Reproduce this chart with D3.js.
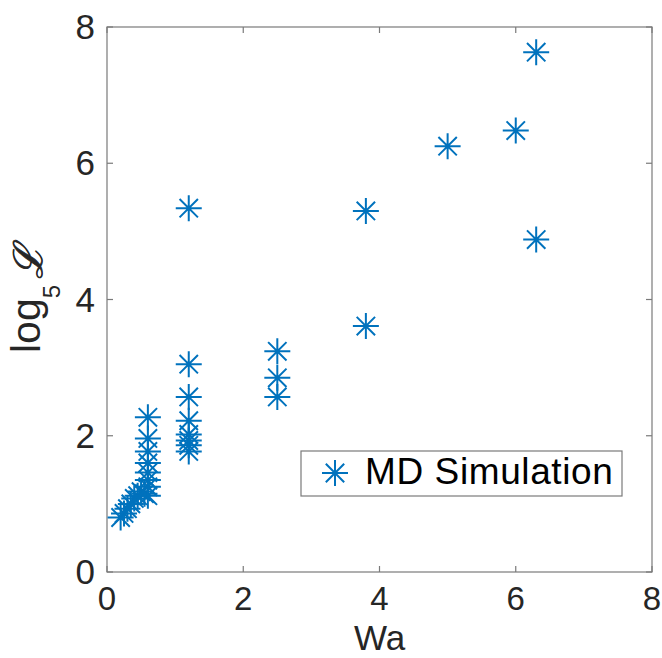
<!DOCTYPE html>
<html>
<head>
<meta charset="utf-8">
<script src="https://cdn.jsdelivr.net/npm/d3@7"></script>
<style>
  body { margin: 0; background: #fff; }
  text { font-family: "Liberation Sans", Helvetica, Arial, sans-serif; }
</style>
</head>
<body>
<div id="chart"></div>
<script>
// MD simulation results: Wa vs log5 L
const waValues = [0.2, 0.25, 0.3, 0.35, 0.4, 0.45, 0.5, 0.55,
                  0.6, 0.6, 0.6, 0.6, 0.6, 0.6, 0.6, 0.6,
                  1.2, 1.2, 1.2, 1.2, 1.2, 1.2, 1.2, 1.2,
                  2.5, 2.5, 2.5,
                  3.8, 3.8,
                  5.0, 6.0, 6.3, 6.3];
const logValues = [0.80, 0.86, 0.93, 1.00, 1.08, 1.12, 1.18, 1.15,
                   1.12, 1.25, 1.35, 1.46, 1.60, 1.77, 1.96, 2.27,
                   1.77, 1.86, 1.93, 2.02, 2.22, 2.57, 3.05, 5.34,
                   2.57, 2.85, 3.24,
                   3.61, 5.30,
                   6.25, 6.48, 4.88, 7.63];
const xTicks = [0, 2, 4, 6, 8];
const yTicks = [0, 2, 4, 6, 8];
const seriesName = 'MD Simulation';

const width = 662, height = 658;
const margin = { top: 27, right: 10, bottom: 86, left: 107 };
const color = '#0072BD';
const axisColor = '#7a7a7a';
const textColor = '#262626';

const svg = d3.select('#chart').append('svg')
    .attr('width', width)
    .attr('height', height);

const x = d3.scaleLinear().domain([0, 8]).range([margin.left, width - margin.right]);
const y = d3.scaleLinear().domain([0, 8]).range([height - margin.bottom, margin.top]);

// axes box
svg.append('rect')
    .attr('x', x(0)).attr('y', y(8))
    .attr('width', x(8) - x(0)).attr('height', y(0) - y(8))
    .attr('fill', 'none').attr('stroke', axisColor).attr('stroke-width', 1.2);

// ticks (inside, on all four sides)
const tickLen = 6;
xTicks.forEach(t => {
    svg.append('line').attr('x1', x(t)).attr('x2', x(t))
        .attr('y1', y(0)).attr('y2', y(0) - tickLen)
        .attr('stroke', axisColor).attr('stroke-width', 1.2);
    svg.append('line').attr('x1', x(t)).attr('x2', x(t))
        .attr('y1', y(8)).attr('y2', y(8) + tickLen)
        .attr('stroke', axisColor).attr('stroke-width', 1.2);
    svg.append('text').attr('x', x(t)).attr('y', y(0) + 38)
        .attr('text-anchor', 'middle').attr('font-size', 33)
        .attr('fill', textColor).text(t);
});
yTicks.forEach(t => {
    svg.append('line').attr('x1', x(0)).attr('x2', x(0) + tickLen)
        .attr('y1', y(t)).attr('y2', y(t))
        .attr('stroke', axisColor).attr('stroke-width', 1.2);
    svg.append('line').attr('x1', x(8)).attr('x2', x(8) - tickLen)
        .attr('y1', y(t)).attr('y2', y(t))
        .attr('stroke', axisColor).attr('stroke-width', 1.2);
    svg.append('text').attr('x', x(0) - 12).attr('y', y(t) + 12)
        .attr('text-anchor', 'end').attr('font-size', 35)
        .attr('fill', textColor).text(t);
});

// axis labels
svg.append('text')
    .attr('x', (x(0) + x(8)) / 2).attr('y', 650)
    .attr('text-anchor', 'middle').attr('font-size', 35)
    .attr('fill', textColor).text('Wa');

const ylab = svg.append('text')
    .attr('transform', 'translate(40,353) rotate(-90)')
    .attr('text-anchor', 'start').attr('font-size', 41)
    .attr('fill', textColor);
ylab.append('tspan').text('log');
ylab.append('tspan').attr('font-size', 24).attr('dy', 20).text('5');
ylab.append('tspan').attr('dy', -18).attr('dx', 6)
    .attr('font-family', 'DejaVu Serif, serif')
    .attr('font-style', 'italic').attr('font-size', 40)
    .attr('stroke', textColor).attr('stroke-width', 0.8).text('\u2112');

// asterisk marker
const r = 13;
function star(g, cx, cy) {
    const d = r * Math.SQRT1_2;
    const p = `M${cx - r},${cy}L${cx + r},${cy}M${cx},${cy - r}L${cx},${cy + r}` +
              `M${cx - d},${cy - d}L${cx + d},${cy + d}M${cx - d},${cy + d}L${cx + d},${cy - d}`;
    g.append('path').attr('d', p).attr('stroke', color)
        .attr('stroke-width', 2).attr('fill', 'none');
}

const pts = svg.append('g');
waValues.forEach((w, i) => star(pts, x(w), y(logValues[i])));

// legend
const lg = svg.append('g');
lg.append('rect').attr('x', 301).attr('y', 451).attr('width', 321).attr('height', 45)
    .attr('fill', '#fff').attr('stroke', axisColor).attr('stroke-width', 1.2);
star(lg, 335, 473);
lg.append('text').attr('x', 365).attr('y', 484).attr('font-size', 37)
    .attr('letter-spacing', 0.6)
    .attr('fill', '#000').text(seriesName);
</script>
</body>
</html>
